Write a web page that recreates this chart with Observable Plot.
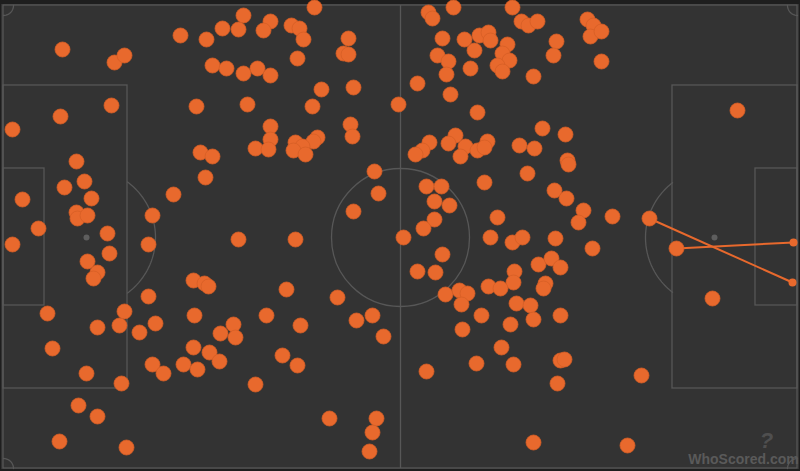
<!DOCTYPE html>
<html>
<head>
<meta charset="utf-8">
<script src="https://cdn.jsdelivr.net/npm/d3@7"></script>
<script src="https://cdn.jsdelivr.net/npm/@observablehq/plot@0.6"></script>
<style>
  html, body { margin: 0; padding: 0; background: #1e1e1e; }
  #chart svg { display: block; }
</style>
</head>
<body>
<div id="chart"></div>
<script>
// Touch locations (pitch coordinates in the 800x471 pitch frame)
const touchX = [62,114,124,180,206,111,60,12,196,200,
  314,243,222,238,270,263,291,299,303,348,343,348,297,212,226,243,257,270,321,353,247,312,398,270,350,352,270,317,313,255,268,295,302,293,305,212,
  428,432,453,512,521,528,537,587,593,590,601,442,464,479,488,490,474,507,502,509,497,502,556,553,601,437,448,446,470,533,417,450,477,542,565,429,422,415,455,448,465,460,477,487,484,519,534,567,
  737,
  76,84,64,91,22,76,77,87,38,107,12,109,87,97,93,152,173,148,148,193,204,208,47,124,205,
  374,378,353,238,295,286,337,266,372,356,403,
  568,527,484,426,441,434,449,554,566,583,578,497,434,423,490,512,522,555,592,442,417,435,538,551,560,514,513,488,500,545,543,445,459,467,461,516,530,481,560,
  612,649,676,712,
  97,119,139,155,194,52,193,152,163,183,197,86,121,78,97,59,126,
  233,220,235,300,383,209,219,282,297,255,329,376,372,369,
  533,462,510,501,476,513,560,564,557,426,533,
  641,627];
const touchY = [49,62,55,35,39,105,116,129,106,152,
  7,15,28,29,21,30,25,28,39,38,53,54,58,65,68,73,68,75,89,87,104,106,104,126,124,136,139,137,141,148,149,142,146,150,154,156,
  12,18,7,7,21,25,21,19,25,36,31,38,39,35,32,40,50,44,53,60,65,71,41,55,61,55,61,74,68,76,83,94,112,128,134,142,150,154,135,143,146,156,150,141,147,145,148,160,
  110,
  161,181,187,198,199,212,218,215,228,233,244,253,261,272,278,215,194,244,296,280,283,286,313,311,177,
  171,193,211,239,239,289,297,315,315,320,237,
  164,173,182,186,186,201,205,190,198,210,222,217,219,228,237,242,237,238,248,254,271,272,264,258,267,271,282,286,288,283,288,294,290,293,304,303,305,315,315,
  216,218,248,298,
  327,325,332,323,315,348,347,364,373,364,369,373,383,405,416,441,447,
  324,333,337,325,336,352,361,355,365,384,418,418,432,451,
  319,329,324,347,363,364,360,359,383,371,442,
  375,445];

// Passes into the box (start -> end)
const passX1 = [649, 676];
const passY1 = [218, 248];
const passX2 = [792, 793];
const passY2 = [282, 242];

// Pitch markings
const pitchRects = [
  {x1: 3, y1: 5, x2: 797, y2: 468},     // touchlines
  {x1: 3, y1: 85, x2: 127, y2: 388},    // left penalty area
  {x1: 3, y1: 168, x2: 44, y2: 305},    // left six-yard box
  {x1: 672, y1: 85, x2: 797, y2: 388},  // right penalty area
  {x1: 755, y1: 168, x2: 797, y2: 305}  // right six-yard box
];
const halfwayX = [400];
const centre = [{x: 400, y: 237}];
const spots = [{x: 86, y: 237}, {x: 714, y: 237}];

const touches = touchX.map((x, i) => ({x, y: touchY[i]}));
const passes = passX1.map((x1, i) => ({x1, y1: passY1[i], x2: passX2[i], y2: passY2[i]}));

// Arc helpers (geometry of the markings)
function arc(cx, cy, r, a0, a1, n = 60) {
  return d3.range(n + 1).map(i => {
    const a = a0 + (a1 - a0) * i / n;
    return {x: cx + r * Math.cos(a), y: cy + r * Math.sin(a)};
  });
}
const R = 69;
const leftA = Math.acos((127 - 86) / R);
const rightA = Math.acos((714 - 672) / R);
const leftArc = arc(86, 237, R, -leftA, leftA);
const rightArc = arc(714, 237, R, Math.PI - rightA, Math.PI + rightA);
const corners = [
  arc(3, 5, 10, 0, Math.PI / 2, 12),
  arc(797, 5, 10, Math.PI / 2, Math.PI, 12),
  arc(3, 468, 10, -Math.PI / 2, 0, 12),
  arc(797, 468, 10, Math.PI, 1.5 * Math.PI, 12)
];

const lineCol = "#575757";
const orange = "#e8692d";

const chart = Plot.plot({
  width: 800,
  height: 471,
  margin: 0,
  x: {domain: [0, 800], range: [0, 800], axis: null},
  y: {domain: [0, 471], range: [0, 471], axis: null},
  style: {background: "#1e1e1e", fontFamily: "Liberation Sans, Arial, sans-serif"},
  marks: [
    Plot.rect([{x1: 1, y1: 4, x2: 799, y2: 469}], {x1: "x1", y1: "y1", x2: "x2", y2: "y2", fill: "#333333"}),
    Plot.rect(pitchRects, {x1: "x1", y1: "y1", x2: "x2", y2: "y2", fill: "none", stroke: lineCol, strokeWidth: 1.3}),
    Plot.ruleX(halfwayX, {x: d => d, y1: 5, y2: 468, stroke: lineCol, strokeWidth: 1.3}),
    Plot.dot(centre, {x: "x", y: "y", r: R, stroke: lineCol, strokeWidth: 1.3, fill: "none"}),
    Plot.line(leftArc, {x: "x", y: "y", stroke: lineCol, strokeWidth: 1.3}),
    Plot.line(rightArc, {x: "x", y: "y", stroke: lineCol, strokeWidth: 1.3}),
    ...corners.map(c => Plot.line(c, {x: "x", y: "y", stroke: lineCol, strokeWidth: 1.3})),
    Plot.dot(spots, {x: "x", y: "y", r: 3, fill: "#5e5e5e"}),
    Plot.dot(centre, {x: "x", y: "y", r: 3, fill: "#5e5e5e"}),
    // watermark
    Plot.text(["?"], {x: () => 766, y: () => 440, text: d => d, fill: "#4f4f4f", fontSize: 22, fontWeight: "bold", fontStyle: "italic"}),
    Plot.text(["WhoScored.com"], {x: () => 743, y: () => 459, text: d => d, fill: "#5a5a5a", fontSize: 14, fontWeight: "bold"}),
    // passes
    Plot.link(passes, {x1: "x1", y1: "y1", x2: "x2", y2: "y2", stroke: orange, strokeWidth: 2}),
    Plot.dot(passes, {x: "x2", y: "y2", r: 4, fill: orange}),
    // touches
    Plot.dot(touches, {x: "x", y: "y", r: 7.5, fill: orange, stroke: "#d65e26", strokeWidth: 0.8})
  ]
});
document.getElementById("chart").append(chart);
</script>
</body>
</html>
